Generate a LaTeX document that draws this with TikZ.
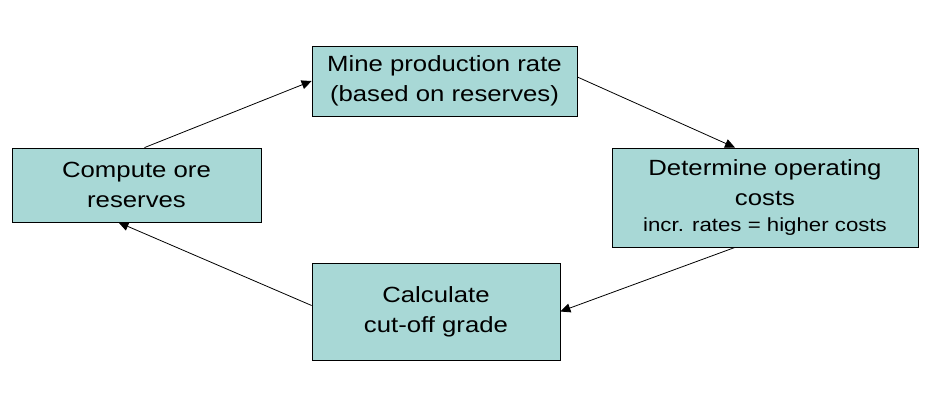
\documentclass[tikz,border=0pt]{standalone}
\usepackage{fontspec}
\setmainfont[FakeStretch=1.17]{Liberation Sans}
\usetikzlibrary{arrows.meta}
\definecolor{boxfill}{HTML}{A8D8D6}
\tikzset{
  stepbox/.style={draw=black,thick,fill=boxfill,align=center,inner sep=0pt,
    font=\fontsize{22}{30}\selectfont},
  link/.style={-{Triangle[length=10pt,width=9pt]},thick}
}
\begin{document}
\begin{tikzpicture}[x=1pt,y=-1pt]
      \useasboundingbox (0,0) rectangle (927,407);
      \node[stepbox,minimum width=249pt,minimum height=74pt] (ore) at (136.5,185)
        {Compute ore\\reserves};
      \node[stepbox,minimum width=265pt,minimum height=70pt] (rate) at (444.5,81)
        {Mine production rate\\(based on reserves)};
      \node[stepbox,minimum width=306pt,minimum height=99pt] (cost) at (765,197.5)
        {Determine operating\\costs\\[-4pt]{\fontsize{19}{24}\selectfont incr. rates = higher costs}};
      \node[stepbox,minimum width=248pt,minimum height=97pt] (grade) at (436,311.5)
        {Calculate\\cut-off grade};
      % cycle
      \draw[link] ([xshift=8pt]ore.north) -- (rate.west);
      \draw[link] ([yshift=4pt]rate.east) -- ([xshift=-30pt]cost.north);
      \draw[link] ([xshift=-30pt]cost.south) -- (grade.east);
      \draw[link] ([yshift=6pt]grade.west) -- ([xshift=-18pt]ore.south);
\end{tikzpicture}
\end{document}
